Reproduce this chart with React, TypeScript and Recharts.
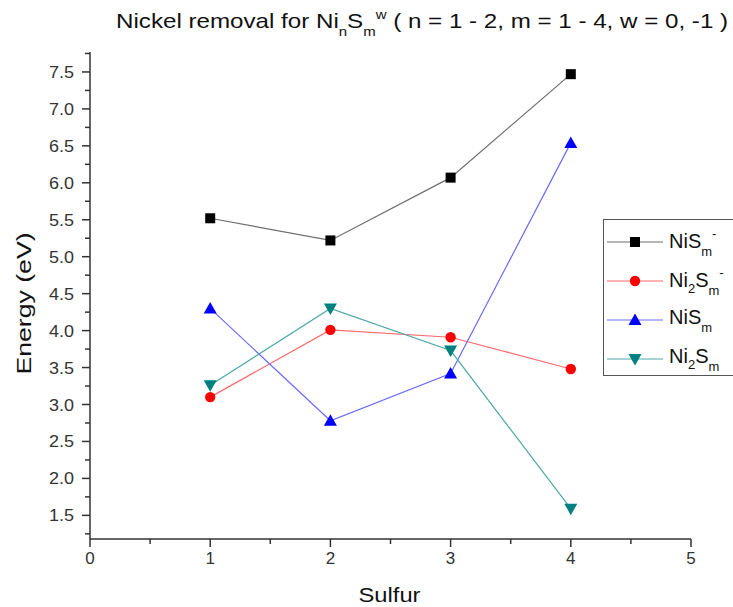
import React from 'react';
import { LineChart, Line, XAxis, YAxis } from 'recharts';

const sulfur = [1, 2, 3, 4];
const nisAnion = [5.52, 5.22, 6.07, 7.47];
const ni2sAnion = [3.1, 4.01, 3.91, 3.48];
const nisNeutral = [4.3, 2.78, 3.42, 6.54];
const ni2sNeutral = [3.26, 4.3, 3.73, 1.59];

const xTicks = [0, 0.5, 1, 1.5, 2, 2.5, 3, 3.5, 4, 4.5, 5];
const xLabelTicks = [0, 1, 2, 3, 4, 5];
const yTicks = [1.25, 1.5, 1.75, 2, 2.25, 2.5, 2.75, 3, 3.25, 3.5, 3.75, 4, 4.25, 4.5, 4.75, 5, 5.25, 5.5, 5.75, 6, 6.25, 6.5, 6.75, 7, 7.25, 7.5, 7.75];
const yLabelTicks = [1.5, 2, 2.5, 3, 3.5, 4, 4.5, 5, 5.5, 6, 6.5, 7, 7.5];

const FONT = '"Liberation Sans", Arial, Helvetica, sans-serif';

type Series = {
  key: string;
  values: number[];
  ni: string;
  sup: string;
  color: string;
  lineColor: string;
  shape: 'square' | 'circle' | 'up' | 'down';
};

const series: Series[] = [
  { key: 'nisAnion', values: nisAnion, ni: '', sup: '-', color: '#000000', lineColor: '#6e6e6e', shape: 'square' },
  { key: 'ni2sAnion', values: ni2sAnion, ni: '2', sup: '-', color: '#ff0000', lineColor: '#ff6a6a', shape: 'circle' },
  { key: 'nisNeutral', values: nisNeutral, ni: '', sup: '', color: '#0000ff', lineColor: '#6a6aff', shape: 'up' },
  { key: 'ni2sNeutral', values: ni2sNeutral, ni: '2', sup: '', color: '#008080', lineColor: '#4ea8a8', shape: 'down' },
];

const data = sulfur.map((s, i) => {
  const row: Record<string, number> = { s };
  series.forEach((se) => {
    row[se.key] = se.values[i];
  });
  return row;
});

function Marker({ cx, cy, shape, color }: { cx: number; cy: number; shape: string; color: string }) {
  if (shape === 'square') return <rect x={cx - 5} y={cy - 5} width={10} height={10} fill={color} />;
  if (shape === 'circle') return <circle cx={cx} cy={cy} r={5.2} fill={color} />;
  if (shape === 'up')
    return <polygon points={`${cx},${cy - 6.5} ${cx - 6.5},${cy + 5} ${cx + 6.5},${cy + 5}`} fill={color} />;
  return <polygon points={`${cx},${cy + 6.5} ${cx - 6.5},${cy - 5} ${cx + 6.5},${cy - 5}`} fill={color} />;
}

const XTick = (props: any) => {
  const { x, y, payload } = props;
  const v = payload.value as number;
  const major = xLabelTicks.includes(v);
  return (
    <g>
      <line x1={x} y1={y} x2={x} y2={y + (major ? 8 : 5)} stroke="#333" strokeWidth={1.5} />
      {major && (
        <text x={x} y={y + 25} textAnchor="middle" fontSize={17} fontFamily={FONT} fill="#333">
          {v}
        </text>
      )}
    </g>
  );
};

const YTick = (props: any) => {
  const { x, y, payload } = props;
  const v = payload.value as number;
  const major = yLabelTicks.includes(v);
  return (
    <g>
      <line x1={x} y1={y} x2={x - (major ? 8 : 5)} y2={y} stroke="#333" strokeWidth={1.5} />
      {major && (
        <text
          x={x - 16}
          y={y + 6}
          textAnchor="end"
          fontSize={16.5}
          fontFamily={FONT}
          fill="#333"
          textLength={25}
          lengthAdjust="spacingAndGlyphs"
        >
          {v.toFixed(1)}
        </text>
      )}
    </g>
  );
};

const YLabel = (props: any) => {
  const vb = props.viewBox || {};
  const cx = 23;
  const cy = (vb.y ?? 52) + (vb.height ?? 487) / 2 + 8;
  return (
    <text
      x={cx}
      y={cy}
      transform={`rotate(-90, ${cx}, ${cy})`}
      textAnchor="middle"
      dominantBaseline="central"
      fontSize={21}
      fontFamily={FONT}
      fill="#111"
      textLength={142}
      lengthAdjust="spacingAndGlyphs"
    >
      Energy (eV)
    </text>
  );
};

const XLabel = (props: any) => {
  const vb = props.viewBox || {};
  const cx = (vb.x ?? 90) + (vb.width ?? 601) / 2 - 1;
  const cy = (vb.y ?? 539) + 63;
  return (
    <text
      x={cx}
      y={cy}
      textAnchor="middle"
      fontSize={21}
      fontFamily={FONT}
      fill="#111"
      textLength={62}
      lengthAdjust="spacingAndGlyphs"
    >
      Sulfur
    </text>
  );
};

function LegendLabel({ ni, sup }: { ni: string; sup: string }) {
  return (
    <span style={{ fontFamily: FONT, fontSize: 20, color: '#111', whiteSpace: 'nowrap' }}>
      Ni
      {ni && <sub style={{ fontSize: 13, verticalAlign: -6 }}>{ni}</sub>}S
      <sub style={{ fontSize: 13, verticalAlign: -8 }}>m</sub>
      {sup && <sup style={{ fontSize: 13, verticalAlign: 10 }}>{sup}</sup>}
    </span>
  );
}

export default function App() {
  return (
    <div style={{ position: 'absolute', left: 0, top: 0, width: 733, height: 607, background: '#fff', overflow: 'hidden' }}>
      <div
        style={{
          position: 'absolute',
          left: 116,
          top: 7,
          fontFamily: FONT,
          fontSize: 21,
          color: '#111',
          whiteSpace: 'nowrap',
          transform: 'scaleX(1.15)',
          transformOrigin: 'left top',
        }}
      >
        Nickel removal for Ni<sub style={{ fontSize: 13, verticalAlign: -8 }}>n</sub>S
        <sub style={{ fontSize: 13, verticalAlign: -8 }}>m</sub>
        <sup style={{ fontSize: 13, verticalAlign: 9 }}>w</sup> ( n = 1 - 2, m = 1 - 4, w = 0, -1 )
      </div>
      <LineChart width={733} height={607} data={data} margin={{ top: 52, right: 42, bottom: 0, left: 0 }}>
        <XAxis
          dataKey="s"
          type="number"
          domain={[0, 5]}
          ticks={xTicks}
          interval={0}
          tick={<XTick />}
          tickLine={false}
          tickSize={0}
          tickMargin={0}
          height={68}
          axisLine={{ stroke: '#333', strokeWidth: 1.5 }}
          label={<XLabel />}
        />
        <YAxis
          type="number"
          domain={[1.18, 7.77]}
          ticks={yTicks}
          interval={0}
          tick={<YTick />}
          tickLine={false}
          tickSize={0}
          tickMargin={0}
          width={90}
          allowDataOverflow
          axisLine={{ stroke: '#333', strokeWidth: 1.5 }}
          label={<YLabel />}
        />
        {series.map((se) => (
          <Line
            key={se.key}
            dataKey={se.key}
            stroke={se.lineColor}
            strokeWidth={1.2}
            isAnimationActive={false}
            dot={(p: any) => <Marker key={`${se.key}-${p.index}`} cx={p.cx} cy={p.cy} shape={se.shape} color={se.color} />}
            activeDot={false}
          />
        ))}
      </LineChart>
      <div
        style={{
          position: 'absolute',
          left: 603,
          top: 219,
          width: 150,
          height: 157,
          border: '1px solid #555',
          background: '#fff',
          boxSizing: 'border-box',
        }}
      >
        {series.map((se, i) => (
          <div
            key={se.key}
            style={{ position: 'absolute', left: 0, top: 5 + i * 39, height: 34, display: 'flex', alignItems: 'center' }}
          >
            <svg width={62} height={20} style={{ marginLeft: 3 }}>
              <line x1={0} y1={10} x2={56} y2={10} stroke={se.lineColor} strokeWidth={1.2} />
              <Marker cx={28} cy={10} shape={se.shape} color={se.color} />
            </svg>
            <LegendLabel ni={se.ni} sup={se.sup} />
          </div>
        ))}
      </div>
    </div>
  );
}
